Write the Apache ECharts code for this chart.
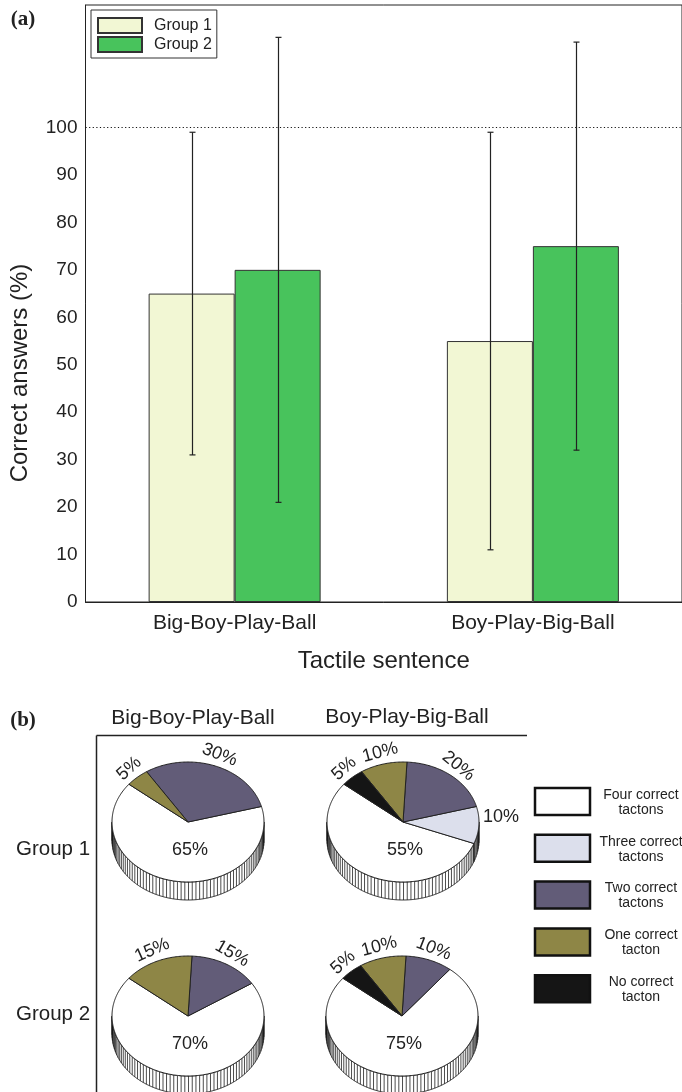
<!DOCTYPE html>
<html>
<head>
<meta charset="utf-8">
<script src="https://cdn.jsdelivr.net/npm/echarts@6/dist/echarts.min.js"></script>
<style>
  html, body { margin: 0; padding: 0; background: #fff; }
  #chart { width: 682px; height: 1092px; }
</style>
</head>
<body>
<div id="chart"></div>
<script>
// ---- data: panel (a) ----
const sentences = ['Big-Boy-Play-Ball', 'Boy-Play-Big-Ball'];
const group1Mean = [65, 55];
const group2Mean = [70, 75];
const group1Sd = [34, 44];
const group2Sd = [49, 43];
const yTicks = [0, 10, 20, 30, 40, 50, 60, 70, 80, 90, 100];

// ---- data: panel (b) ----
const tactonCategories = ['Four correct tactons', 'Three correct tactons', 'Two correct tactons', 'One correct tacton', 'No correct tacton'];
const legendLines = [['Four correct', 'tactons'], ['Three correct', 'tactons'], ['Two correct', 'tactons'], ['One correct', 'tacton'], ['No correct', 'tacton']];
const pieG1Sentence1 = [65, 0, 30, 5, 0];
const pieG1Sentence2 = [55, 10, 20, 10, 5];
const pieG2Sentence1 = [70, 0, 15, 15, 0];
const pieG2Sentence2 = [75, 0, 10, 10, 5];
const rowLabels = ['Group 1', 'Group 2'];

// ---- styling ----
const FONT = '"Liberation Sans", Arial, Helvetica, sans-serif';
const INK = '#222';
const barColors = ['#f2f7d4', '#48c35c'];
const tactonColors = ['#ffffff', '#dcdfec', '#625c78', '#8e8646', '#151515'];
const BAR_WIDTH = 86;

const PIE_RX = 76, PIE_RY = 60, PIE_DEPTH = 18, START_ANGLE = 141, HATCH_STEP = 2.8;
const pieLayout = [
  { values: pieG1Sentence1, cx: 188, cy: 822 },
  { values: pieG1Sentence2, cx: 403, cy: 822 },
  { values: pieG2Sentence1, cx: 188, cy: 1016 },
  { values: pieG2Sentence2, cx: 402, cy: 1016 }
];

const rad = d => d * Math.PI / 180;

// slice angles (degrees), laid out clockwise from START_ANGLE, last category first
function sliceAngles(values) {
  let a = START_ANGLE;
  const out = [];
  for (let i = values.length - 1; i >= 0; i--) {
    const span = values[i] / 100 * 360;
    out[i] = { start: a, end: a - span };
    a -= span;
  }
  return out;
}

function errorSeries(name, means, sds, side) {
  return {
    type: 'custom',
    name: name,
    silent: true,
    z: 10,
    encode: { x: 0, y: [1, 2] },
    data: means.map((m, i) => [i, m - sds[i], m + sds[i]]),
    renderItem: function (params, api) {
      const lo = api.coord([api.value(0), api.value(1)]);
      const hi = api.coord([api.value(0), api.value(2)]);
      const x = Math.round(lo[0] + side * BAR_WIDTH / 2) + 0.5;
      const cap = 3;
      const st = { stroke: INK, lineWidth: 1.2 };
      return {
        type: 'group',
        children: [
          { type: 'line', shape: { x1: x, y1: hi[1], x2: x, y2: lo[1] }, style: st },
          { type: 'line', shape: { x1: x - cap, y1: hi[1], x2: x + cap, y2: hi[1] }, style: st },
          { type: 'line', shape: { x1: x - cap, y1: lo[1], x2: x + cap, y2: lo[1] }, style: st }
        ]
      };
    }
  };
}

function pieSeries(p, k) {
  const slices = sliceAngles(p.values);
  const pt = (deg, dy) => [p.cx + PIE_RX * Math.cos(rad(deg)), p.cy - PIE_RY * Math.sin(rad(deg)) + (dy || 0)];
  return {
    type: 'custom',
    name: 'pie' + k,
    coordinateSystem: 'none',
    silent: true,
    data: p.values.map((v, i) => ({ value: [i, v], name: tactonCategories[i] })),
    renderItem: function (params, api) {
      const idx = api.value(0);
      const v = api.value(1);
      if (!v) return { type: 'group', children: [] };
      const s = slices[idx];
      const children = [];

      // side wall: parts of the slice on the front half
      const runs = [];
      let cur = null;
      for (let a = s.end; a <= s.start + 1e-6; a += 0.5) {
        const aa = Math.min(a, s.start);
        if (Math.sin(rad(aa)) <= 1e-9) {
          if (!cur) { cur = []; runs.push(cur); }
          cur.push(aa);
        } else cur = null;
      }
      runs.forEach(run => {
        if (run.length < 2) return;
        const top = run.map(a => pt(a));
        const bot = run.slice().reverse().map(a => pt(a, PIE_DEPTH));
        children.push({ type: 'polygon', shape: { points: top.concat(bot) }, style: { fill: '#fff', stroke: INK, lineWidth: 1 } });
        const a0 = run[0], a1 = run[run.length - 1];
        for (let h = Math.ceil(a0 / HATCH_STEP) * HATCH_STEP; h <= a1; h += HATCH_STEP) {
          const t = pt(h);
          children.push({ type: 'line', shape: { x1: t[0], y1: t[1], x2: t[0], y2: t[1] + PIE_DEPTH }, style: { stroke: '#111', lineWidth: 0.75 } });
        }
      });

      // top face
      const pts = [[p.cx, p.cy]];
      for (let a = s.start; a >= s.end - 1e-6; a -= 1) pts.push(pt(a));
      pts.push(pt(s.end));
      children.push({ type: 'polygon', shape: { points: pts }, style: { fill: tactonColors[idx], stroke: INK, lineWidth: 1, lineJoin: 'round' } });

      // value label
      const txt = v + '%';
      const base = { text: txt, font: '18px ' + FONT, fill: INK };
      if (idx === 0) {
        children.push({ type: 'text', x: p.cx + 2, y: p.cy + PIE_RY * 0.47,
          style: Object.assign({ align: 'center', verticalAlign: 'middle', textAlign: 'center', textVerticalAlign: 'middle' }, base) });
      } else {
        const m = (s.start + s.end) / 2;
        const c = Math.cos(rad(m)), sn = Math.sin(rad(m));
        if (m >= 30 && m <= 150) {
          children.push({ type: 'text', x: p.cx + (PIE_RX + 12) * c, y: p.cy - (PIE_RY + 12) * sn,
            rotation: rad(m - 90),
            style: Object.assign({ align: 'center', verticalAlign: 'middle', textAlign: 'center', textVerticalAlign: 'middle' }, base) });
        } else {
          const al = c >= 0 ? 'left' : 'right';
          children.push({ type: 'text', x: p.cx + (PIE_RX + 4) * c, y: p.cy - (PIE_RY + 4) * sn - 8,
            style: Object.assign({ align: al, verticalAlign: 'middle', textAlign: al, textVerticalAlign: 'middle' }, base) });
        }
      }
      return { type: 'group', children: children };
    }
  };
}

// ---- static text / frame for panel (b) and panel tags ----
const graphics = [];
const txt = (text, x, y, font, opts) => Object.assign({
  type: 'text', x: x, y: y, silent: true,
  style: Object.assign({ text: text, font: font, fill: INK, align: 'center', verticalAlign: 'middle', textAlign: 'center', textVerticalAlign: 'middle' }, (opts && opts.style) || {})
}, (opts && opts.el) || {});

graphics.push(txt('(a)', 23, 20, 'bold 21px "Liberation Serif", "DejaVu Serif", serif'));
graphics.push(txt('(b)', 23, 721, 'bold 21px "Liberation Serif", "DejaVu Serif", serif'));
graphics.push(txt('Correct answers (%)', 20, 373, '24px ' + FONT, { el: { rotation: Math.PI / 2 } }));

graphics.push(txt(sentences[0], 193, 718, '21px ' + FONT));
graphics.push(txt(sentences[1], 407, 717, '21px ' + FONT));
graphics.push(txt(rowLabels[0], 53, 849, '20.5px ' + FONT));
graphics.push(txt(rowLabels[1], 53, 1014, '20.5px ' + FONT));
graphics.push({ type: 'line', silent: true, shape: { x1: 96.5, y1: 735.5, x2: 527, y2: 735.5 }, style: { stroke: INK, lineWidth: 1.5 } });
graphics.push({ type: 'line', silent: true, shape: { x1: 96.5, y1: 735.5, x2: 96.5, y2: 1092 }, style: { stroke: INK, lineWidth: 1.5 } });

tactonCategories.forEach((name, i) => {
  const y = 788 + i * 46.8;
  graphics.push({ type: 'rect', silent: true, shape: { x: 535, y: y, width: 55, height: 27 },
    style: { fill: tactonColors[i], stroke: '#111', lineWidth: 2.5 } });
  graphics.push(txt(legendLines[i][0], 641, y + 7, '14px ' + FONT));
  graphics.push(txt(legendLines[i][1], 641, y + 22, '14px ' + FONT));
});

const chart = echarts.init(document.getElementById('chart'), null, { renderer: 'canvas' });
chart.setOption({
  animation: false,
  backgroundColor: '#fff',
  textStyle: { fontFamily: FONT },
  grid: { left: 85.5, top: 5, width: 602, height: 597, show: true, borderColor: INK, borderWidth: 1, backgroundColor: 'transparent' },
  legend: {
    data: ['Group 1', 'Group 2'],
    orient: 'vertical', left: 91, top: 10,
    padding: [7, 5, 5, 6], itemGap: 2, itemWidth: 44, itemHeight: 15,
    borderColor: '#333', borderWidth: 1,
    icon: 'rect',
    textStyle: { fontSize: 16, color: INK, lineHeight: 16, padding: [0, 0, 0, 7] }
  },
  xAxis: {
    type: 'category', data: sentences,
    axisLine: { lineStyle: { color: INK, width: 1 } },
    axisTick: { show: false },
    axisLabel: { fontSize: 21, color: INK, margin: 11 },
    name: 'Tactile sentence', nameLocation: 'middle', nameGap: 47,
    nameTextStyle: { fontSize: 24, color: INK }
  },
  yAxis: {
    type: 'value', min: 0, max: 125.82, interval: 10,
    axisLine: { show: true, lineStyle: { color: INK, width: 1 } },
    axisTick: { show: false },
    splitLine: { show: false },
    axisLabel: { fontSize: 19, color: INK, margin: 8, showMaxLabel: false,
      formatter: v => (yTicks.indexOf(v) >= 0 ? String(v) : '') }
  },
  series: [
    {
      type: 'bar', name: 'Group 1', data: group1Mean, barWidth: BAR_WIDTH, barGap: '0%',
      itemStyle: { color: barColors[0], borderColor: '#333', borderWidth: 1 },
      markLine: {
        silent: true, symbol: 'none', label: { show: false },
        lineStyle: { type: [1.2, 2.4], color: '#111', width: 1 },
        data: [{ yAxis: 100 }]
      }
    },
    {
      type: 'bar', name: 'Group 2', data: group2Mean, barWidth: BAR_WIDTH, barGap: '0%',
      itemStyle: { color: barColors[1], borderColor: '#333', borderWidth: 1 }
    },
    errorSeries('Group 1 spread', group1Mean, group1Sd, -1),
    errorSeries('Group 2 spread', group2Mean, group2Sd, 1)
  ].concat(pieLayout.map(pieSeries)),
  graphic: { elements: graphics }
});
</script>
</body>
</html>
